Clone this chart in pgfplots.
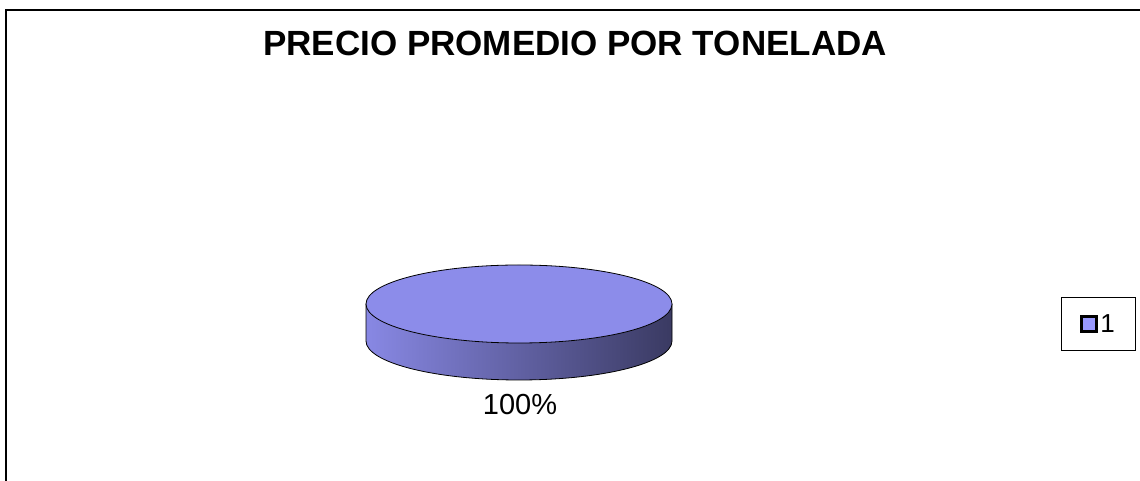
\documentclass[border=0pt]{standalone}
\usepackage{fontspec}
\setmainfont{Liberation Sans}
\usepackage{pgfplots}
\usepackage{pgfplotstable}
\pgfplotsset{compat=1.18}

\definecolor{pietop}{RGB}{140,140,234}
\definecolor{sideA}{RGB}{136,136,228}
\definecolor{sideB}{RGB}{100,100,178}
\definecolor{sideC}{RGB}{58,58,98}
\definecolor{legfill}{RGB}{153,153,255}

% una sola serie: 100% del total
\pgfplotstableread{
serie valor
1 100
}\datos

\begin{document}
\begin{tikzpicture}
\pgfplotstablegetelem{0}{valor}\of\datos
\let\valor\pgfplotsretval
\pgfmathsetmacro\total{\valor}
\pgfmathtruncatemacro\pct{round(100*\valor/\total)}
\begin{axis}[
  scale only axis, width=1140pt, height=481pt,
  xmin=0, xmax=1140, ymin=0, ymax=481,
  hide axis, clip=false,
  legend style={at={(axis cs:1098.5,157)}, anchor=center, draw=black,
    line width=1.5pt, inner xsep=19pt, inner ysep=15pt,
    nodes={font=\fontsize{26}{30}\selectfont, inner xsep=2pt}},
]
\addlegendimage{legend image code/.code={
  \draw[fill=legfill, draw=black, line width=3pt] (0pt,-7.5pt) rectangle (15pt,7.5pt);}}
\addlegendentry{1}

% marco
\draw[line width=2.6pt] (6,-30) -- (6,471) -- (1170,471);

% titulo
\node[font=\bfseries\fontsize{35}{42}\selectfont] at (575,438) {PRECIO PROMEDIO POR TONELADA};

% lateral del disco
\path[left color=sideA, middle color=sideB, right color=sideC]
  (366,177) -- (366,140) arc[start angle=180, end angle=360, x radius=153, y radius=39]
  -- (672,177) arc[start angle=0, end angle=-180, x radius=153, y radius=39] -- cycle;
\draw[line width=0.8pt]
  (366,177) -- (366,140) arc[start angle=180, end angle=360, x radius=153, y radius=39]
  -- (672,177);
% cara superior
\filldraw[fill=pietop, draw=black, line width=0.8pt] (519,177) ellipse[x radius=153, y radius=39];

% etiqueta
\node[font=\fontsize{29}{34}\selectfont] at (520,76) {\pct\%};
\end{axis}
\pgfresetboundingbox
\path[use as bounding box] (0,0) rectangle (1140pt,481pt);
\end{tikzpicture}
\end{document}
